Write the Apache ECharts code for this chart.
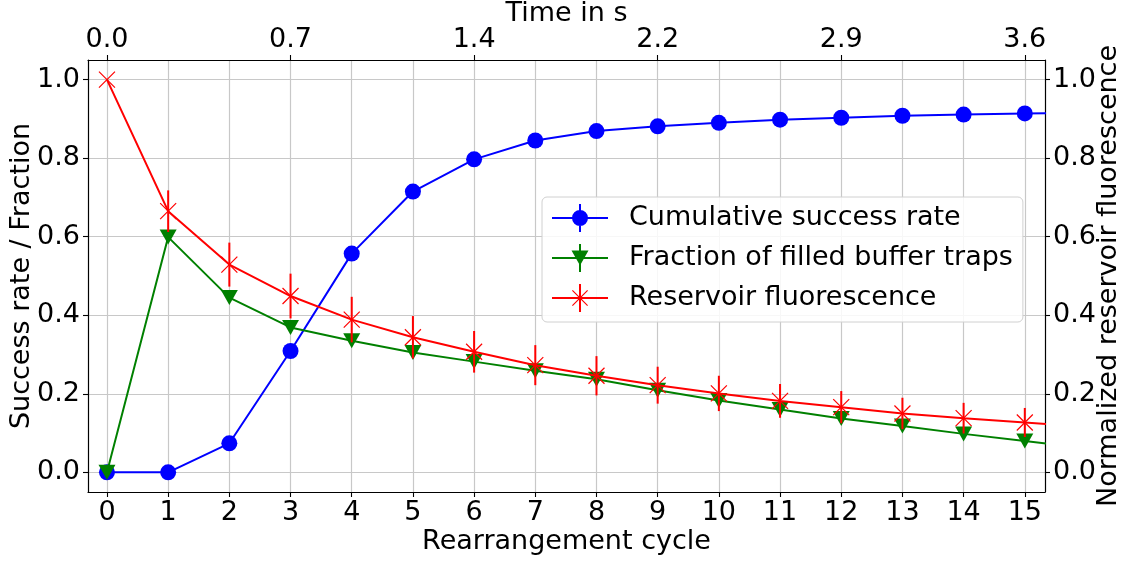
<!DOCTYPE html>
<html>
<head>
<meta charset="utf-8">
<script src="https://cdn.jsdelivr.net/npm/echarts@6/dist/echarts.min.js"></script>
<style>
  html, body { margin: 0; padding: 0; background: #fff; }
  #chart { width: 1128px; height: 561px; }
</style>
</head>
<body>
<div id="chart"></div>
<script>
// Rearrangement cycles (the last one lies just past the visible range)
const cycles = [0, 1, 2, 3, 4, 5, 6, 7, 8, 9, 10, 11, 12, 13, 14, 15, 16];
// Cumulative success rate
const successRate = [0.0, 0.0, 0.074, 0.309, 0.557, 0.715, 0.797, 0.845, 0.869, 0.881, 0.890, 0.898, 0.903, 0.908, 0.911, 0.914, 0.916];
// Fraction of filled buffer traps
const bufferFraction = [0.0, 0.599, 0.445, 0.369, 0.335, 0.305, 0.282, 0.259, 0.237, 0.209, 0.183, 0.160, 0.137, 0.118, 0.098, 0.080, 0.062];
// Normalized reservoir fluorescence and its uncertainty
const reservoir = [1.0, 0.665, 0.529, 0.449, 0.389, 0.344, 0.307, 0.273, 0.246, 0.222, 0.201, 0.182, 0.166, 0.150, 0.138, 0.127, 0.115];
const reservoirErr = [0, 0.053, 0.056, 0.057, 0.058, 0.054, 0.053, 0.051, 0.050, 0.047, 0.045, 0.043, 0.041, 0.040, 0.039, 0.037, 0.036];

// Axis ticks
const cycleTicks = [0, 1, 2, 3, 4, 5, 6, 7, 8, 9, 10, 11, 12, 13, 14, 15];
const yTicks = [0, 0.2, 0.4, 0.6, 0.8, 1.0];
const timeTickCycles = [0, 3, 6, 9, 12, 15];
const timeTickLabels = ['0.0', '0.7', '1.4', '2.2', '2.9', '3.6'];

const FONT = 'DejaVu Sans';
const FS = 27;
const GRID_COLOR = '#c8c8c8';

const pairs = (ys) => cycles.map((c, i) => [c, ys[i]]);

// Legend icons: line + vertical error bar + marker, drawn in a 56x28 box
const ICON_BLUE = 'path://M0,13H56V15H0Z M27,0H29V28H27Z M20,14A8,8 0 1,1 36,14A8,8 0 1,1 20,14Z';
const ICON_GREEN = 'path://M0,13H56V15H0Z M27,0H29V28H27Z M19.5,6.5H36.5L28,21.5Z';
const ICON_RED = 'path://M0,13H56V15H0Z M27,0H29V28H27Z M20,6.8L20.8,6L36,21.2L35.2,22Z M35.2,6L36,6.8L20.8,22L20,21.2Z';
// Plot marker for the reservoir series (stroked "x")
const X_MARK = 'path://M0,0L10,10M10,0L0,10';

const chart = echarts.init(document.getElementById('chart'), null, { renderer: 'canvas' });

const axisLineStyle = { show: true, onZero: false, lineStyle: { color: '#000', width: 1.2 } };
const tickStyle = { show: true, inside: false, length: 5, lineStyle: { color: '#000', width: 1.1 } };
const nameStyle = { fontFamily: FONT, fontSize: FS, color: '#000' };

const option = {
  animation: false,
  backgroundColor: '#fff',
  textStyle: { fontFamily: FONT },
  grid: { left: 88, right: 83, top: 60, bottom: 69, containLabel: false, outerBoundsMode: 'none' },
  legend: {
    orient: 'vertical',
    left: 542,
    top: 197,
    padding: [7, 10, 10, 10],
    itemWidth: 56,
    itemHeight: 28,
    itemGap: 12,
    backgroundColor: 'rgba(255,255,255,0.85)',
    borderColor: '#d0d0d0',
    borderWidth: 1,
    borderRadius: 5,
    itemStyle: { borderWidth: 0 },
    textStyle: { fontFamily: FONT, fontSize: FS, color: '#000', lineHeight: 28, padding: [0, 0, 0, 16] },
    data: [
      { name: 'Cumulative success rate', icon: ICON_BLUE, itemStyle: { color: '#0000ff', borderWidth: 0 } },
      { name: 'Fraction of filled buffer traps', icon: ICON_GREEN, itemStyle: { color: '#008000', borderWidth: 0 } },
      { name: 'Reservoir fluorescence', icon: ICON_RED, itemStyle: { color: '#ff0000', borderWidth: 0 } }
    ]
  },
  xAxis: [
    {
      type: 'value',
      position: 'bottom',
      min: -0.31,
      max: 15.33,
      name: 'Rearrangement cycle',
      nameLocation: 'middle',
      nameGap: 36,
      nameMoveOverlap: false,
      nameTextStyle: nameStyle,
      axisLine: axisLineStyle,
      axisTick: Object.assign({ customValues: cycleTicks }, tickStyle),
      axisLabel: { customValues: cycleTicks, margin: 7, fontFamily: FONT, fontSize: FS, color: '#000' },
      splitLine: { show: true, lineStyle: { color: GRID_COLOR, width: 1.2 } }
    },
    {
      type: 'value',
      position: 'top',
      min: -0.31,
      max: 15.33,
      name: 'Time in s',
      nameLocation: 'middle',
      nameGap: 33,
      nameMoveOverlap: false,
      nameTextStyle: nameStyle,
      axisLine: axisLineStyle,
      axisTick: Object.assign({ customValues: timeTickCycles }, tickStyle),
      axisLabel: {
        customValues: timeTickCycles,
        margin: 7,
        fontFamily: FONT, fontSize: FS, color: '#000',
        formatter: (v) => timeTickLabels[timeTickCycles.indexOf(Math.round(v))]
      },
      splitLine: { show: false }
    }
  ],
  yAxis: [
    {
      type: 'value',
      position: 'left',
      min: -0.05,
      max: 1.05,
      name: 'Success rate / Fraction',
      nameLocation: 'middle',
      nameGap: 53,
      nameMoveOverlap: false,
      nameTextStyle: nameStyle,
      axisLine: axisLineStyle,
      axisTick: Object.assign({ customValues: yTicks }, tickStyle),
      axisLabel: { customValues: yTicks, margin: 8, fontFamily: FONT, fontSize: FS, color: '#000', formatter: (v) => v.toFixed(1) },
      splitLine: { show: true, lineStyle: { color: GRID_COLOR, width: 1.2 } }
    },
    {
      type: 'value',
      position: 'right',
      min: -0.05,
      max: 1.05,
      name: 'Normalized reservoir fluorescence',
      nameLocation: 'middle',
      nameGap: 50,
      nameRotate: 90,
      nameMoveOverlap: false,
      nameTextStyle: nameStyle,
      axisLine: axisLineStyle,
      axisTick: Object.assign({ customValues: yTicks }, tickStyle),
      axisLabel: { customValues: yTicks, margin: 8, fontFamily: FONT, fontSize: FS, color: '#000', formatter: (v) => v.toFixed(1) },
      splitLine: { show: false }
    }
  ],
  series: [
    {
      name: 'Cumulative success rate',
      type: 'line',
      xAxisIndex: 0,
      yAxisIndex: 0,
      data: pairs(successRate),
      clip: true,
      symbol: 'circle',
      symbolSize: 16,
      showAllSymbol: true,
      lineStyle: { color: '#0000ff', width: 2 },
      itemStyle: { color: '#0000ff' },
      z: 2
    },
    {
      name: 'Fraction of filled buffer traps',
      type: 'line',
      xAxisIndex: 0,
      yAxisIndex: 0,
      data: pairs(bufferFraction),
      clip: true,
      symbol: 'triangle',
      symbolRotate: 180,
      symbolSize: [17, 15],
      showAllSymbol: true,
      lineStyle: { color: '#008000', width: 2 },
      itemStyle: { color: '#008000' },
      z: 3
    },
    {
      name: 'Reservoir fluorescence',
      type: 'line',
      xAxisIndex: 0,
      yAxisIndex: 1,
      data: pairs(reservoir),
      clip: true,
      symbol: X_MARK,
      symbolSize: 16,
      showAllSymbol: true,
      lineStyle: { color: '#ff0000', width: 2 },
      itemStyle: { color: 'rgba(0,0,0,0)', borderColor: '#ff0000', borderWidth: 1.2 },
      z: 5
    },
    {
      // vertical error bars of the reservoir fluorescence
      name: 'Reservoir fluorescence',
      type: 'custom',
      xAxisIndex: 0,
      yAxisIndex: 1,
      clip: true,
      z: 4,
      data: cycles.map((c, i) => [c, reservoir[i] - reservoirErr[i], reservoir[i] + reservoirErr[i]]),
      encode: { x: 0, y: [1, 2] },
      renderItem: function (params, api) {
        const lo = api.coord([api.value(0), api.value(1)]);
        const hi = api.coord([api.value(0), api.value(2)]);
        if (Math.abs(hi[1] - lo[1]) < 0.5) return null;
        return {
          type: 'line',
          shape: { x1: lo[0], y1: lo[1], x2: hi[0], y2: hi[1] },
          style: { stroke: '#ff0000', lineWidth: 2 }
        };
      }
    }
  ]
};

chart.setOption(option);
</script>
</body>
</html>
